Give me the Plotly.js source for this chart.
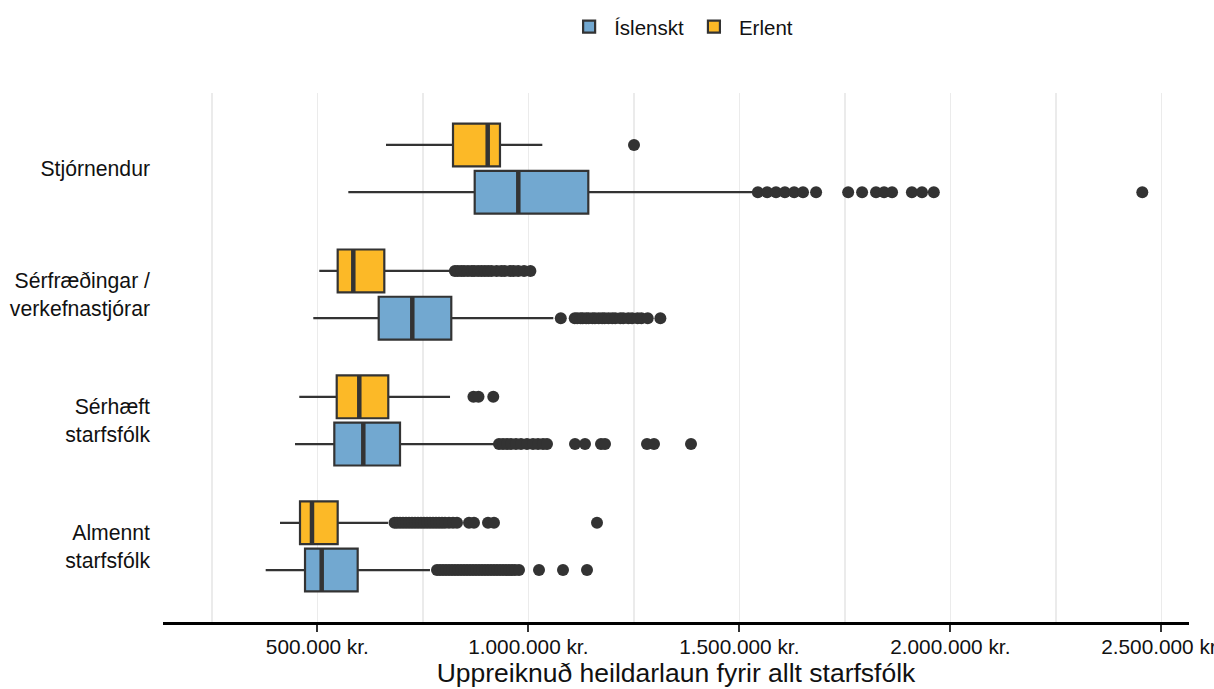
<!DOCTYPE html>
<html>
<head>
<meta charset="utf-8">
<script src="https://cdn.plot.ly/plotly-3.0.1.min.js"></script>
<style>html,body{margin:0;padding:0;background:#fff;}#chart{width:1214px;height:689px;}</style>
</head>
<body>
<div id="chart"></div>
<script>
// Categories (top to bottom)
const categories = ["Stjórnendur", "Sérfræðingar /<br>verkefnastjórar", "Sérhæft<br>starfsfólk", "Almennt<br>starfsfólk"];
const groups = ["Íslenskt", "Erlent"];

// Íslenskt box statistics (per category, same order)
const islLow    = [573500, 490500, 447200, 377700];
const islQ1     = [873000, 645500, 540300, 470900];
const islMedian = [976300, 725100, 609000, 510400];
const islQ3     = [1142200, 817500, 696000, 595700];
const islHigh   = [1532000, 1059300, 921000, 767000];

// Erlent box statistics
const erlLow    = [662800, 504700, 457300, 411600];
const erlQ1     = [821600, 548300, 546000, 459000];
const erlMedian = [903800, 585300, 599500, 487400];
const erlQ3     = [932900, 658800, 668200, 548300];
const erlHigh   = [1033200, 814500, 814500, 667500];

// Outliers
const islOutStjornendur = [1544000, 1566000, 1587000, 1608000, 1630000, 1651000, 1682000, 1758000, 1791000, 1824000, 1843000, 1862000, 1909000, 1933000, 1961000, 2455000];
const islOutSerfraedingar = [1077000, 1110000, 1116000, 1124000, 1129000, 1137000, 1143000, 1152000, 1158000, 1167000, 1175000, 1181000, 1190000, 1199000, 1206000, 1218000, 1225000, 1237000, 1246000, 1259000, 1268000, 1283000, 1313000];
const islOutSerhaeft = [930600, 940100, 949500, 959000, 970800, 982700, 996900, 1011100, 1023000, 1034800, 1044300, 1110700, 1134400, 1172300, 1181800, 1281300, 1297900, 1385600];
const islOutAlmennt = [783700, 790800, 797900, 805000, 812100, 819200, 826300, 833400, 840500, 847700, 854800, 861900, 869000, 876100, 883200, 890300, 897400, 904500, 911600, 918700, 925800, 932900, 940100, 947200, 954300, 961400, 968500, 978000, 1025400, 1082200, 1139100];

const erlOutStjornendur = [1250500];
const erlOutSerfraedingar = [826000, 833000, 841000, 848000, 857000, 866000, 872000, 881000, 889000, 897000, 905000, 913000, 925000, 936000, 944000, 957000, 965000, 976000, 990000, 1005000];
const erlOutSerhaeft = [870000, 882000, 917000];
const erlOutAlmennt = [683000, 688900, 696000, 703100, 710200, 717300, 724400, 731500, 738600, 745700, 752800, 760000, 767100, 774200, 781300, 788400, 795500, 802600, 812100, 821600, 831000, 859500, 871300, 904500, 918700, 1162800];

const islOutliers = [islOutStjornendur, islOutSerfraedingar, islOutSerhaeft, islOutAlmennt];
const erlOutliers = [erlOutStjornendur, erlOutSerfraedingar, erlOutSerhaeft, erlOutAlmennt];

// x axis ticks
const tickValues = [500000, 1000000, 1500000, 2000000, 2500000];
const tickLabels = tickValues.map(v => String(v).replace(/\B(?=(\d{3})+(?!\d))/g, '.') + ' kr.');

// ---- layout constants ----
const nCat = categories.length;
const catPos = categories.map((c, i) => nCat - i);   // top category highest
const dodge = 0.1875;
const boxW = 0.34;
const islPos = catPos.map(p => p - dodge);
const erlPos = catPos.map(p => p + dodge);

const dark = '#333333';
const blue = '#72a8d0';
const orange = '#fcb927';

function boxTrace(name, pos, low, q1, med, q3, high, color) {
  return {
    type: 'box', orientation: 'h', name: name,
    y: pos, q1: q1, median: med, q3: q3, lowerfence: low, upperfence: high,
    width: boxW, whiskerwidth: 0, boxpoints: false,
    fillcolor: color, line: { color: dark, width: 2.2 },
    legendgroup: name, hoverinfo: 'x'
  };
}
function medianTrace(name, pos, med) {
  const x = [], y = [];
  med.forEach((m, i) => { x.push(m, m, null); y.push(pos[i] - boxW / 2, pos[i] + boxW / 2, null); });
  return { type: 'scatter', mode: 'lines', x: x, y: y, line: { color: dark, width: 4.5 },
           showlegend: false, legendgroup: name, hoverinfo: 'skip' };
}
function outlierTrace(name, pos, outs) {
  const x = [], y = [];
  outs.forEach((arr, i) => arr.forEach(v => { x.push(v); y.push(pos[i]); }));
  return { type: 'scatter', mode: 'markers', x: x, y: y,
           marker: { color: dark, size: 12 }, showlegend: false, legendgroup: name, hoverinfo: 'x' };
}

const data = [
  boxTrace(groups[0], islPos, islLow, islQ1, islMedian, islQ3, islHigh, blue),
  boxTrace(groups[1], erlPos, erlLow, erlQ1, erlMedian, erlQ3, erlHigh, orange),
  medianTrace(groups[0], islPos, islMedian),
  medianTrace(groups[1], erlPos, erlMedian),
  outlierTrace(groups[0], islPos, islOutliers),
  outlierTrace(groups[1], erlPos, erlOutliers)
];

const font = "'Liberation Sans', Arial, sans-serif";
const layout = {
  width: 1214, height: 689,
  margin: { l: 163, r: 25, t: 93, b: 67 },
  paper_bgcolor: '#fff', plot_bgcolor: '#fff',
  font: { family: font, color: '#111', size: 21 },
  showlegend: true,
  legend: { orientation: 'h', x: 0.505, xanchor: 'center', yref: 'container', y: 0.99, yanchor: 'top',
            font: { size: 20.5, color: '#111' }, traceorder: 'normal', itemwidth: 40 },
  xaxis: {
    range: [134355, 2565668],
    tickvals: tickValues, ticktext: tickLabels,
    ticks: 'outside', ticklen: 7, tickwidth: 2.2, tickcolor: dark,
    showline: true, linecolor: '#000', linewidth: 2.8,
    showgrid: true, gridcolor: '#ebebeb', gridwidth: 1.5,
    minor: { dtick: 250000, tick0: 0, showgrid: true, gridcolor: '#ebebeb', gridwidth: 1.5, ticks: '' },
    zeroline: false,
    tickfont: { size: 20.8, color: '#111' },
    ticklabeloverflow: 'allow',
    ticklabelstandoff: -3,
    title: { text: 'Uppreiknuð heildarlaun fyrir allt starfsfólk', font: { size: 26.5, color: '#111' }, standoff: 2 }
  },
  yaxis: {
    range: [0.4, 4.6],
    tickvals: catPos, ticktext: categories,
    showgrid: false, zeroline: false, showline: false, ticks: '',
    ticklabelstandoff: 12,
    tickfont: { size: 21.2, color: '#111' }
  }
};

Plotly.newPlot('chart', data, layout, { displayModeBar: false, staticPlot: true });
</script>
</body>
</html>
